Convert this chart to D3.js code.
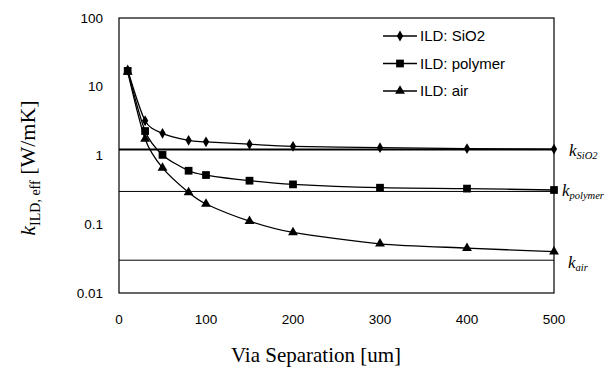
<!DOCTYPE html>
<html>
<head>
<meta charset="utf-8">
<script src="https://cdn.jsdelivr.net/npm/d3@7"></script>
<style>
  body { margin: 0; background: #fff; }
  svg { display: block; }
  .tick-label { font-family: "Liberation Sans", Arial, sans-serif; font-size: 13.5px; fill: #000; }
  .serif { font-family: "Liberation Serif", "Times New Roman", serif; fill: #000; }
</style>
</head>
<body>
<div id="chart"></div>
<script>
// via separation [um]
const separations = [10, 30, 50, 80, 100, 150, 200, 300, 400, 500];
const sio2Values = [17.5, 3.2, 2.1, 1.66, 1.58, 1.46, 1.36, 1.30, 1.26, 1.24];
const polymerValues = [17, 2.27, 1.02, 0.60, 0.52, 0.43, 0.38, 0.34, 0.33, 0.315];
const airValues = [16.5, 1.74, 0.66, 0.29, 0.197, 0.111, 0.076, 0.052, 0.045, 0.040];
// bulk conductivities drawn as horizontal reference lines
const bulkNames = ["SiO2", "polymer", "air"];
const bulkValues = [1.22, 0.3, 0.03];
const xTicks = [0, 100, 200, 300, 400, 500];
const yTicks = [0.01, 0.1, 1, 10, 100];
const yTickLabels = ["0.01", "0.1", "1", "10", "100"];
const seriesNames = ["ILD: SiO2", "ILD: polymer", "ILD: air"];

const width = 610, height = 376;
const margin = {top: 18, right: 56, bottom: 83, left: 119};

const svg = d3.select("#chart").append("svg")
  .attr("width", width)
  .attr("height", height);

const x = d3.scaleLinear().domain([0, 500]).range([margin.left, width - margin.right]);
const y = d3.scaleLog().domain([0.01, 100]).range([height - margin.bottom, margin.top]);

// reference lines for bulk k
svg.selectAll(".bulk")
  .data(bulkValues)
  .enter().append("line")
  .attr("x1", x(0)).attr("x2", x(500))
  .attr("y1", d => y(d)).attr("y2", d => y(d))
  .attr("stroke", "#000")
  .attr("stroke-width", (d, i) => i === 0 ? 2 : 1);

// plot frame
svg.append("rect")
  .attr("x", x(0)).attr("y", y(100))
  .attr("width", x(500) - x(0)).attr("height", y(0.01) - y(100))
  .attr("fill", "none").attr("stroke", "#000").attr("stroke-width", 1.2);

// y tick labels
svg.selectAll(".ylab")
  .data(yTicks)
  .enter().append("text")
  .attr("class", "tick-label")
  .attr("x", margin.left - 16)
  .attr("y", d => y(d))
  .attr("dy", "0.35em")
  .attr("text-anchor", "end")
  .text((d, i) => yTickLabels[i]);

// x tick labels
svg.selectAll(".xlab")
  .data(xTicks)
  .enter().append("text")
  .attr("class", "tick-label")
  .attr("x", d => x(d))
  .attr("y", y(0.01) + 31)
  .attr("text-anchor", "middle")
  .text(d => d);

// series
const series = [sio2Values, polymerValues, airValues].map((vals, i) => ({
  name: seriesNames[i],
  shape: [d3.symbolDiamond, d3.symbolSquare, d3.symbolTriangle][i],
  size: [34, 60, 42][i],
  points: separations.map((s, j) => ({x: s, y: vals[j]}))
}));

const line = d3.line()
  .x(d => x(d.x))
  .y(d => y(d.y))
  .curve(d3.curveCardinal.tension(0.2));

series.forEach(s => {
  svg.append("path")
    .attr("d", line(s.points))
    .attr("fill", "none")
    .attr("stroke", "#000")
    .attr("stroke-width", 1.3);

  svg.selectAll(null)
    .data(s.points)
    .enter().append("path")
    .attr("transform", d => `translate(${x(d.x)},${y(d.y)})`)
    .attr("d", d3.symbol().type(s.shape).size(s.size))
    .attr("fill", "#000");
});

// legend
const legend = svg.append("g").attr("transform", "translate(383,36)");
series.forEach((s, i) => {
  const g = legend.append("g").attr("transform", `translate(0,${i * 27.5})`);
  g.append("line").attr("x1", 0).attr("x2", 34).attr("stroke", "#000").attr("stroke-width", 1.3);
  g.append("path").attr("transform", "translate(17,0)")
    .attr("d", d3.symbol().type(s.shape).size(s.size)).attr("fill", "#000");
  g.append("text")
    .attr("class", "tick-label")
    .attr("x", 37).attr("dy", "0.36em")
    .style("font-size", "15px")
    .text(s.name);
});

// labels for bulk lines on the right
const bulkLabelY = [156, 196, 268];
bulkNames.forEach((n, i) => {
  const t = svg.append("text").attr("class", "serif")
    .attr("x", [569, 562, 568][i]).attr("y", bulkLabelY[i])
    .style("font-style", "italic").style("font-size", "17px");
  t.append("tspan").text("k");
  t.append("tspan").attr("dy", 3).style("font-size", "10.5px").text(n);
});

// axis titles
svg.append("text").attr("class", "serif")
  .attr("x", 316).attr("y", 362)
  .attr("text-anchor", "middle")
  .style("font-size", "21px")
  .text("Via Separation [um]");

const yt = svg.append("text").attr("class", "serif")
  .attr("transform", "translate(35,168) rotate(-90)")
  .attr("text-anchor", "middle")
  .style("font-size", "22px");
yt.append("tspan").style("font-style", "italic").text("k");
yt.append("tspan").attr("dy", 5).style("font-size", "14px").text("ILD, eff");
yt.append("tspan").attr("dy", -5).text(" [W/mK]");
</script>
</body>
</html>
